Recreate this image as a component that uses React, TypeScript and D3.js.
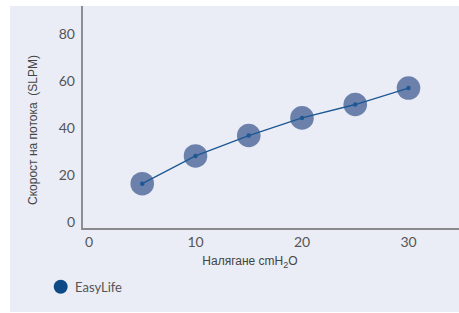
import React from 'react';
import * as d3 from 'd3';

const pressure = [5, 10, 15, 20, 25, 30];
const flow = [16.3, 28.1, 36.8, 44.3, 50, 57];
const xTicks = [0, 10, 20, 30];
const yTicks = [0, 20, 40, 60, 80];
const seriesName = 'EasyLife';

const W = 459;
const H = 313;

const App: React.FC = () => {
  const x = d3.scaleLinear().domain([0, 30]).range([89, 408.5]);
  const y = d3.scaleLinear().domain([0, 80]).range([222, 34]);

  const pts = pressure.map((p, i) => [x(p), y(flow[i])] as [number, number]);
  const line = d3.line();

  const axisX = 82;
  const axisY = 229;

  return (
    <svg width={W} height={H} style={{ position: 'absolute', left: 0, top: 0 }}>
      <rect x={10} y={6} width={W - 10} height={H - 7} fill="#eaedf5" />

      {/* axes */}
      <line x1={axisX} y1={6} x2={axisX} y2={axisY + 1} stroke="#6e6e72" strokeWidth={1.5} />
      <line x1={axisX} y1={axisY} x2={W} y2={axisY} stroke="#8a8a8e" strokeWidth={2} />

      {yTicks.map(t => (
        <text key={t} x={75} y={y(t)} dy="0.35em" textAnchor="end"
          fontFamily="Lato, 'Open Sans', sans-serif" fontSize={14} fill="#555">{t}</text>
      ))}
      {xTicks.map(t => (
        <text key={t} x={x(t)} y={242} dy="0.35em" textAnchor="middle"
          fontFamily="Lato, 'Open Sans', sans-serif" fontSize={14} fill="#555">{t}</text>
      ))}

      {/* axis titles */}
      <text x={250} y={261} dy="0.35em" textAnchor="middle"
        fontFamily="'Liberation Sans', Arial, sans-serif" fontSize={12} fill="#444">
        Налягане cmH<tspan fontSize={9} dy="3">2</tspan><tspan dy="-3">O</tspan>
      </text>
      <text transform="translate(33,130) rotate(-90)" textAnchor="middle" dy="0.35em"
        fontFamily="'Liberation Sans', Arial, sans-serif" fontSize={12} fill="#444"
        xmlSpace="preserve">Скорост на потока  (SLPM)</text>

      {/* series */}
      {pts.map((p, i) => (
        <circle key={'b' + i} cx={p[0]} cy={p[1]} r={11.8} fill="#6b80aa" />
      ))}
      <path d={line(pts) || ''} fill="none" stroke="#1d5794" strokeWidth={1.3} />
      {pts.map((p, i) => (
        <circle key={'d' + i} cx={p[0]} cy={p[1]} r={2.2} fill="#1d5794" />
      ))}

      {/* legend */}
      <circle cx={60.7} cy={286.7} r={7} fill="#0e4a86" />
      <text x={75} y={287} dy="0.35em" fontFamily="Lato, 'Open Sans', sans-serif"
        fontSize={13} fill="#555">{seriesName}</text>
    </svg>
  );
};

export default App;
